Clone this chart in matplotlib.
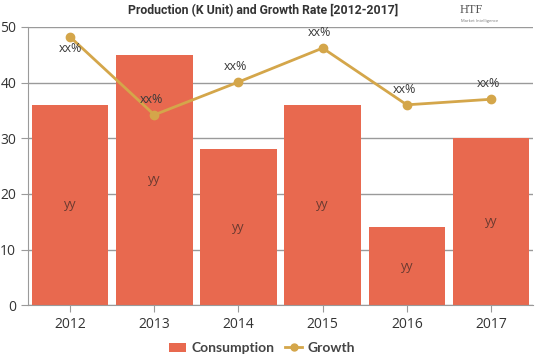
import numpy as np
import matplotlib
matplotlib.use("Agg")
import matplotlib.pyplot as plt
from matplotlib.lines import Line2D
from matplotlib.patches import Patch

# ---- data ----
years = ["2012", "2013", "2014", "2015", "2016", "2017"]
consumption = [36, 45, 28, 36, 14, 30]
growth = [48.2, 34.2, 40.1, 46.2, 36.0, 37.0]
bar_labels = ["yy"] * 6
growth_labels = ["xx%"] * 6

BAR_C = "#E8694F"
LINE_C = "#D4A64A"
GRID_C = "#9a9a9a"

plt.rcParams["font.family"] = ["Open Sans", "DejaVu Sans"]

fig = plt.figure(figsize=(5.39, 3.59), dpi=100)
ax = fig.add_axes([0.052, 0.150, 0.937, 0.775])

x = np.arange(len(years))
ax.bar(x, consumption, width=0.91, color=BAR_C, zorder=2)
ax.plot(x, growth, color=LINE_C, lw=2, marker="o", ms=6, zorder=3)

for xi, v, t in zip(x, consumption, bar_labels):
    ax.text(xi, v / 2, t, ha="center", va="center", fontsize=9,
            color="#6a3a30", zorder=4)

for i, (xi, v, t) in enumerate(zip(x, growth, growth_labels)):
    if i == 0:
        ax.annotate(t, (xi, v), xytext=(0, -8), textcoords="offset points",
                    ha="center", va="center", fontsize=9, color="#3a3a3a", zorder=4)
    else:
        ax.annotate(t, (xi, v), xytext=(-2, 11), textcoords="offset points",
                    ha="center", va="center", fontsize=9, color="#3a3a3a", zorder=4)

ax.set_xlim(-0.5, 5.5)
ax.set_ylim(0, 50)
ax.set_yticks(range(0, 51, 10))
ax.set_xticks(x)
ax.set_xticklabels(years)
ax.yaxis.grid(True, color=GRID_C, lw=1, zorder=0)
ax.set_axisbelow(True)
for s in ("top", "right"):
    ax.spines[s].set_visible(False)
for s in ("left", "bottom"):
    ax.spines[s].set_color(GRID_C)
ax.tick_params(axis="both", colors=GRID_C, labelcolor="#333333", labelsize=10,
               length=5)

fig.text(0.488, 0.972, "Production (K Unit) and Growth Rate [2012-2017]",
         ha="center", va="center", fontsize=8.8, fontweight="bold",
         color="#333333", family=["Roboto", "DejaVu Sans"])

# logo
fig.text(0.875, 0.972, "HTF", ha="center", va="center", fontsize=9,
         color="#555555", family=["Liberation Serif", "DejaVu Serif"])
fig.text(0.89, 0.942, "Market Intelligence", ha="center", va="center",
         fontsize=3, color="#777777")

handles = [Patch(facecolor=BAR_C, label="Consumption"),
           Line2D([0], [0], color=LINE_C, lw=2, marker="o", ms=5, label="Growth")]
leg = fig.legend(handles=handles, loc="center", bbox_to_anchor=(0.486, 0.03),
                 ncol=2, frameon=False, handlelength=1.2,
                 handletextpad=0.4, columnspacing=0.8,
                 prop={"family": ["Lato", "DejaVu Sans"], "weight": "bold", "size": 10})
for t in leg.get_texts():
    t.set_color("#444444")

fig.savefig("out.png", dpi=100)
